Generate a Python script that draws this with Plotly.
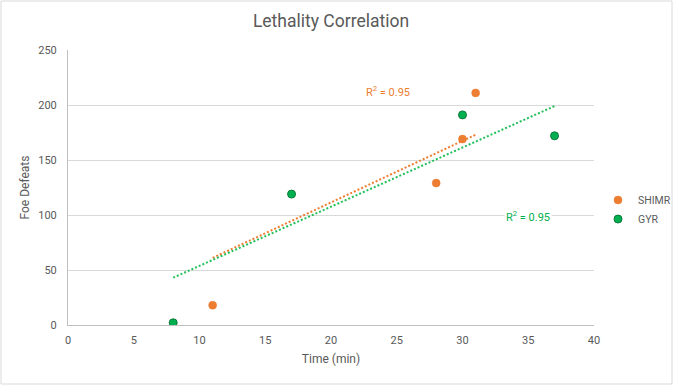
import plotly.graph_objects as go

# Data
shimr_time = [11, 28, 30, 31]
shimr_defeats = [18, 129, 169, 211]
gyr_time = [8, 17, 30, 37]
gyr_defeats = [2, 119, 191, 172]

# Trendline endpoints as drawn in the reference (Excel trendlines)
shimr_trend_x = [11, 31]
shimr_trend_y = [61, 173]
gyr_trend_x = [8, 37]
gyr_trend_y = [43, 199]

r2_shimr = "R<sup>2</sup> = 0.95"
r2_gyr = "R<sup>2</sup> = 0.95"

x_ticks = [0, 5, 10, 15, 20, 25, 30, 35, 40]
y_ticks = [0, 50, 100, 150, 200, 250]

ORANGE = "#ED7D31"
GREEN = "#00B050"
GREEN_LINE = "#22C05A"
TXT = "#595959"
FONT = "Roboto"

fig = go.Figure()

fig.add_trace(go.Scatter(x=shimr_trend_x, y=shimr_trend_y, mode="lines",
                         line=dict(color=ORANGE, width=2, dash="2px,2px"),
                         showlegend=False, hoverinfo="skip"))
fig.add_trace(go.Scatter(x=gyr_trend_x, y=gyr_trend_y, mode="lines",
                         line=dict(color=GREEN_LINE, width=2, dash="2px,2px"),
                         showlegend=False, hoverinfo="skip"))

fig.add_trace(go.Scatter(x=shimr_time, y=shimr_defeats, mode="markers", name="SHIMR",
                         marker=dict(color=ORANGE, size=8, line=dict(color=ORANGE, width=0.5))))
fig.add_trace(go.Scatter(x=gyr_time, y=gyr_defeats, mode="markers", name="GYR",
                         marker=dict(color=GREEN, size=8, line=dict(color="#0B7A3A", width=1))))

fig.add_annotation(x=24.3, y=212.5, text=r2_shimr, showarrow=False,
                   font=dict(family=FONT, size=11, color=ORANGE))
fig.add_annotation(x=35.0, y=99, text=r2_gyr, showarrow=False, bgcolor="white",
                   font=dict(family=FONT, size=11, color=GREEN))

fig.update_layout(
    width=673, height=385,
    margin=dict(l=68, r=79, t=50, b=60, autoexpand=False),
    paper_bgcolor="white", plot_bgcolor="white",
    font=dict(family=FONT, size=11, color=TXT),
    title=dict(text="Lethality Correlation", x=0.5, xanchor="center", y=0.945, yanchor="middle",
               xref="paper",
               font=dict(family=FONT, size=17.5, color=TXT)),
    xaxis=dict(range=[0, 40], tickvals=x_ticks, showgrid=False, zeroline=False,
               showline=True, linecolor="#BFBFBF", linewidth=1,
               ticks="outside", ticklen=5, tickcolor="rgba(0,0,0,0)",
               tickfont=dict(size=11, color=TXT),
               title=dict(text="Time (min)", font=dict(size=12, color=TXT), standoff=8)),
    yaxis=dict(range=[0, 250], tickvals=y_ticks, showgrid=True, gridcolor="#D9D9D9", gridwidth=1,
               zeroline=False, showline=True, linecolor="#BFBFBF", linewidth=1,
               ticks="outside", ticklen=8, tickcolor="rgba(0,0,0,0)",
               tickfont=dict(size=11, color=TXT),
               title=dict(text="Foe Defeats", font=dict(size=12, color=TXT), standoff=6)),
    legend=dict(x=(598 - 68) / 526, y=0.42, xanchor="left", yanchor="middle",
                font=dict(size=10.5, color=TXT), itemwidth=30, tracegroupgap=0,
                bgcolor="rgba(0,0,0,0)"),
    shapes=[dict(type="rect", xref="paper", yref="paper",
                 x0=(1 - 68) / 526, x1=(672 - 68) / 526,
                 y0=(325 - 384) / 275, y1=(325 - 1) / 275,
                 line=dict(color="#D9D9D9", width=1), fillcolor="rgba(0,0,0,0)", layer="below")],
)

fig.write_html("out.html", config={"displayModeBar": False},
               post_script="document.body.style.margin='0';document.body.style.overflow='hidden';")
